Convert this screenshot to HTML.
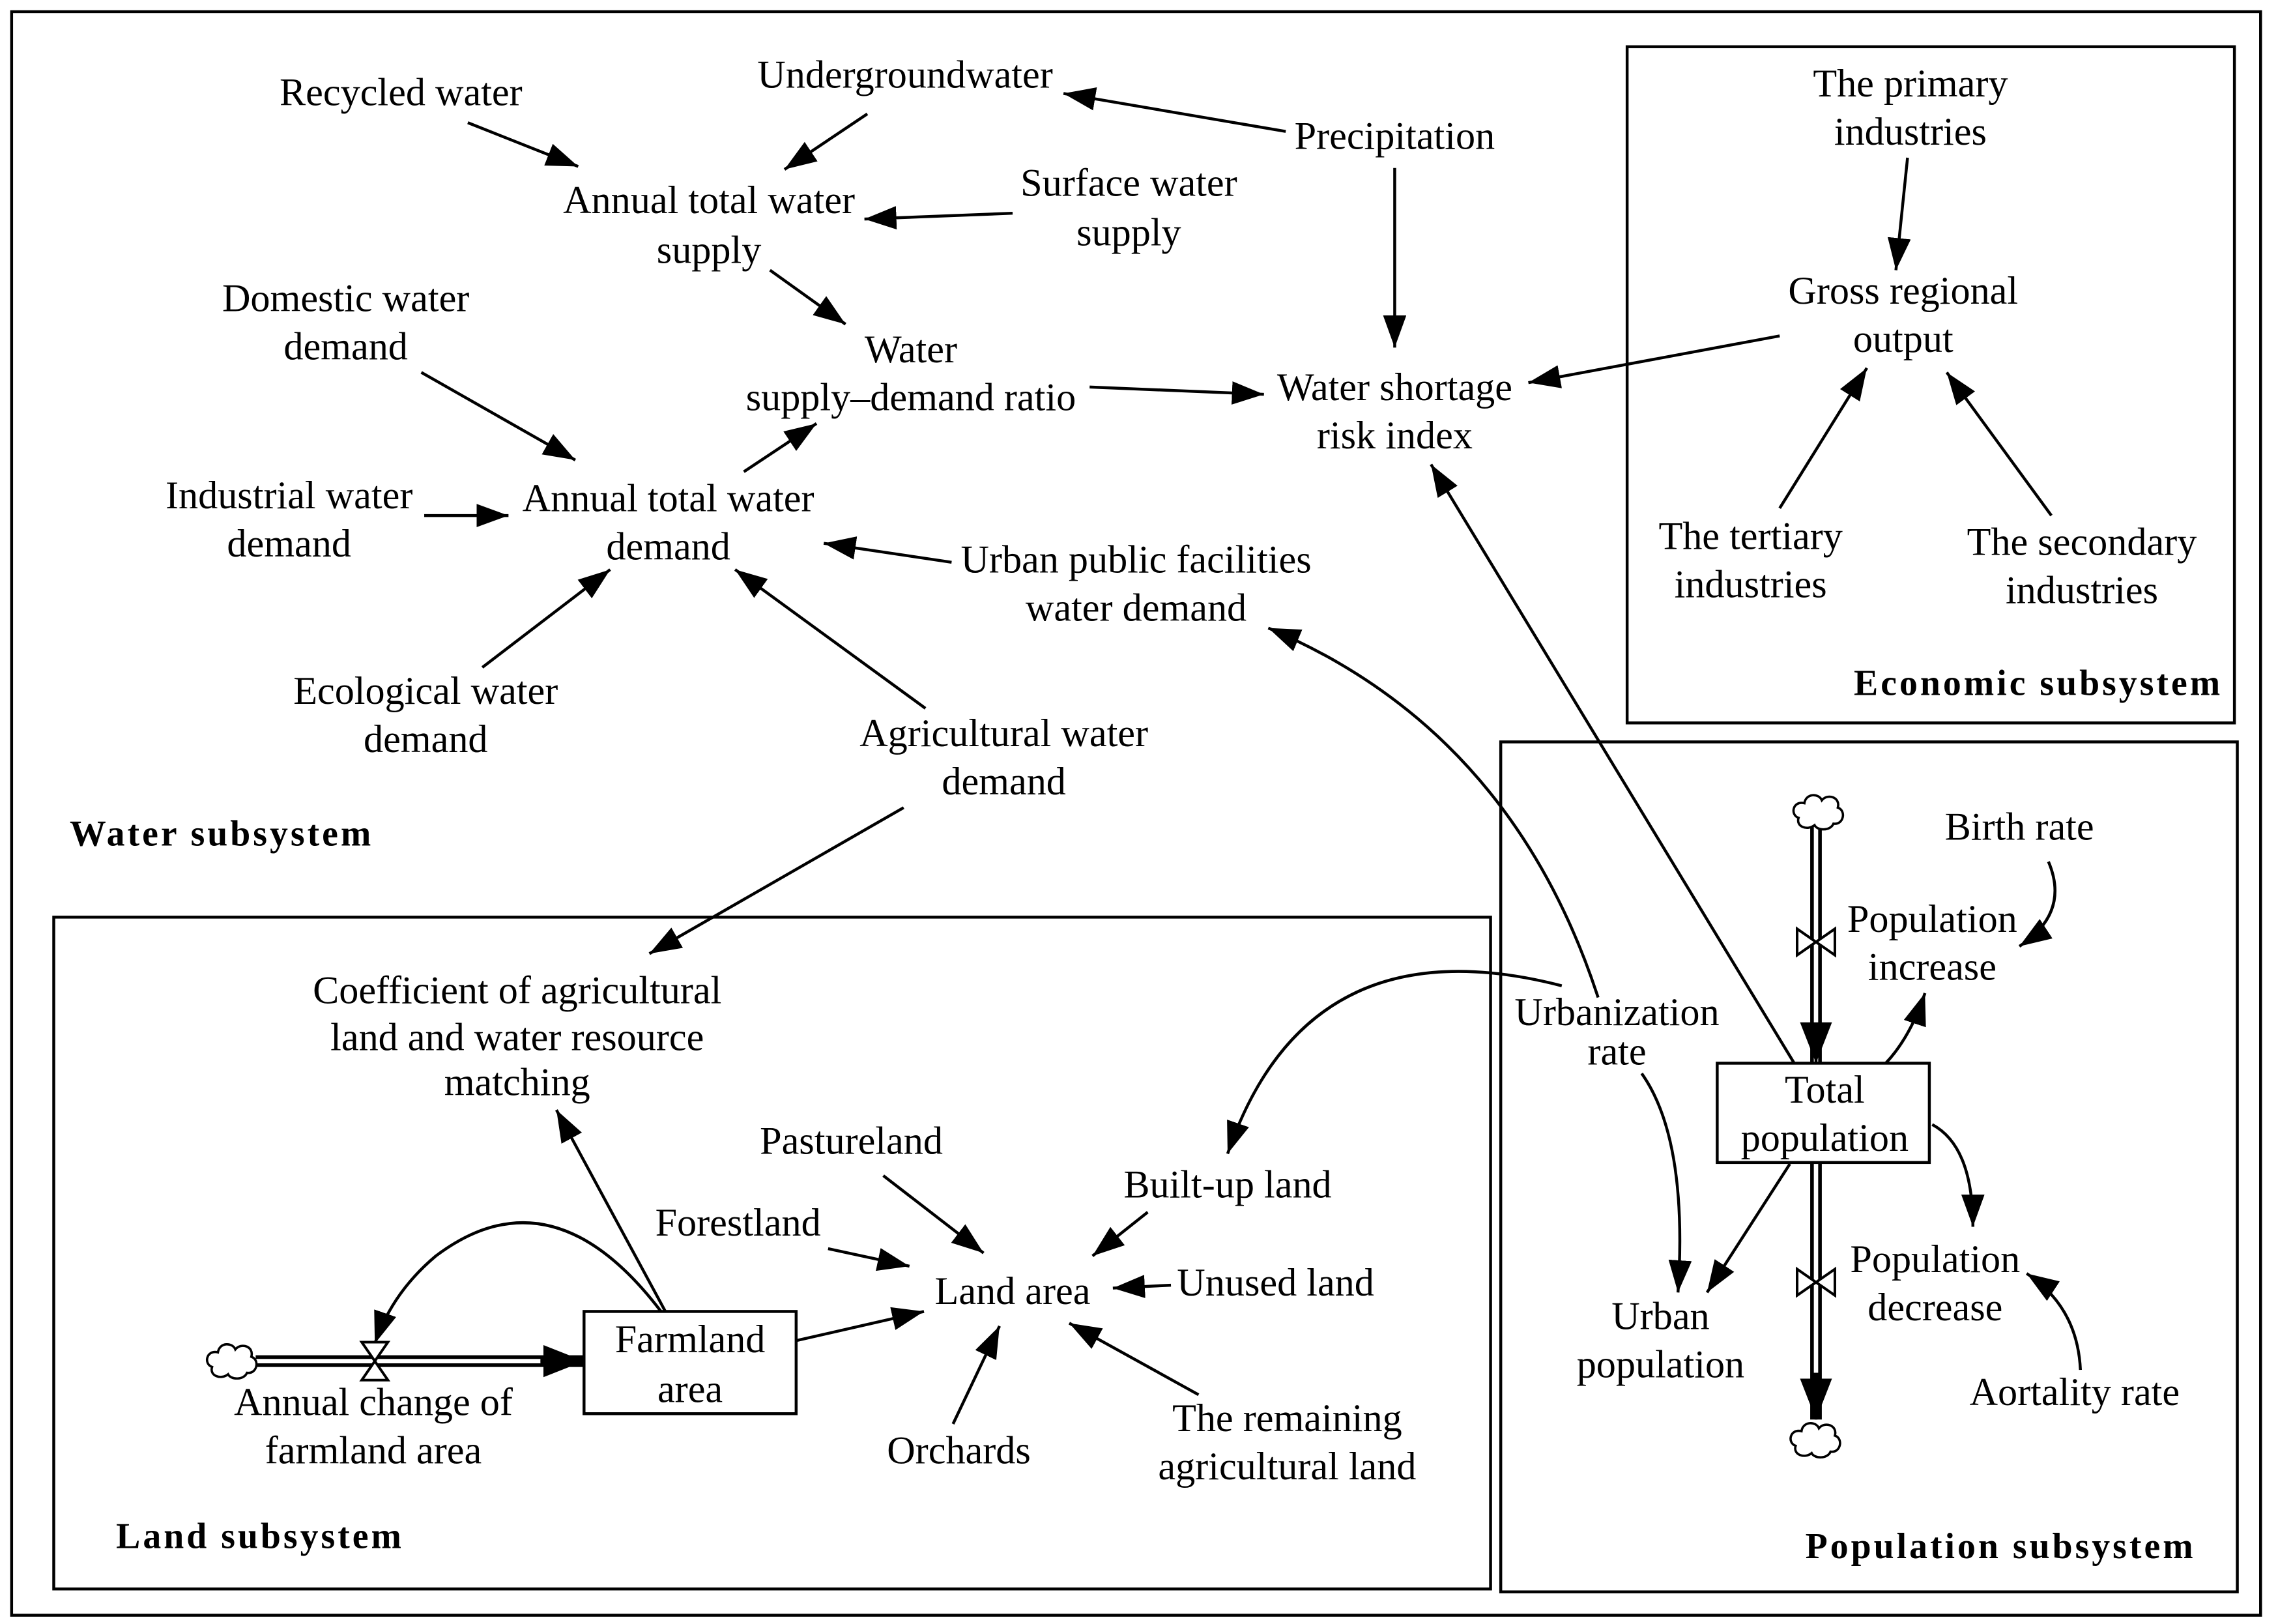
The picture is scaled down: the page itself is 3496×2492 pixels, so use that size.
<!DOCTYPE html>
<html><head><meta charset="utf-8"><style>
html,body{margin:0;padding:0;background:#fff}
svg{display:block}
text{font-family:"Liberation Serif",serif;font-size:27px;fill:#000;text-anchor:middle}
.b{font-weight:bold;font-size:25px;letter-spacing:1.8px}
</style></head><body>
<svg width="3496" height="2492" viewBox="0 0 1568 1112" preserveAspectRatio="none" xmlns="http://www.w3.org/2000/svg">
<defs>
<marker id="a" markerUnits="userSpaceOnUse" markerWidth="24" markerHeight="18" refX="22" refY="8" orient="auto"><path d="M0,0 L22,8 L0,16 Z" fill="#000"/></marker>
<marker id="A" markerUnits="userSpaceOnUse" markerWidth="30" markerHeight="24" refX="28" refY="11" orient="auto"><path d="M0,0 L28,11 L0,22 Z" fill="#000"/></marker>
<g id="cloud"><path d="M-14,4 C-20,2 -18,-8 -10,-6 C-9,-13 0,-13 2,-8 C6,-13 15,-10 13,-3 C19,-1 17,9 10,8 C8,13 -1,13 -3,9 C-8,13 -16,10 -14,4 Z" fill="#fff" stroke="#000" stroke-width="1.6"/></g>
</defs>
<rect x="8" y="8" width="1548" height="1098" fill="none" stroke="#000" stroke-width="2"/>
<rect x="1120" y="32" width="418" height="463" fill="none" stroke="#000" stroke-width="2"/>
<rect x="1033" y="508" width="507" height="582" fill="none" stroke="#000" stroke-width="2"/>
<rect x="37" y="628" width="989" height="460" fill="none" stroke="#000" stroke-width="2"/>

<g stroke="#000" stroke-width="2" fill="none" marker-end="url(#a)">
<line x1="322" y1="84" x2="398" y2="114"/>
<line x1="597" y1="78" x2="540" y2="116"/>
<line x1="885" y1="90" x2="732" y2="64"/>
<line x1="697" y1="146" x2="595" y2="150"/>
<line x1="530" y1="185" x2="582" y2="222"/>
<line x1="960" y1="115" x2="960" y2="238"/>
<line x1="750" y1="265" x2="870" y2="270"/>
<line x1="1225" y1="230" x2="1052" y2="262"/>
<line x1="1313" y1="108" x2="1305" y2="185"/>
<line x1="1225" y1="348" x2="1285" y2="252"/>
<line x1="1412" y1="353" x2="1340" y2="255"/>
<line x1="512" y1="323" x2="562" y2="290"/>
<line x1="290" y1="255" x2="396" y2="315"/>
<line x1="292" y1="353" x2="350" y2="353"/>
<line x1="332" y1="457" x2="420" y2="390"/>
<line x1="655" y1="385" x2="567" y2="372"/>
<line x1="637" y1="485" x2="506" y2="390"/>
<line x1="622" y1="553" x2="447" y2="653"/>
<path d="M1100,683 Q1040,500 873,430"/>
<line x1="1235" y1="728" x2="985" y2="318"/>
<path d="M1075,675 Q900,630 845,790"/>
<path d="M1130,735 Q1162,780 1155,885"/>
<line x1="1232" y1="797" x2="1175" y2="885"/>
<path d="M1298,728 Q1315,710 1325,680"/>
<path d="M1410,590 Q1425,625 1390,648"/>
<path d="M1330,770 Q1358,785 1358,840"/>
<path d="M1432,938 Q1430,895 1395,872"/>
<path d="M455,898 Q380,800 300,860 Q270,885 258,920"/>
<line x1="458" y1="898" x2="383" y2="760"/>
<line x1="608" y1="805" x2="677" y2="858"/>
<line x1="570" y1="855" x2="626" y2="867"/>
<line x1="790" y1="830" x2="752" y2="860"/>
<line x1="806" y1="880" x2="766" y2="882"/>
<line x1="548" y1="918" x2="636" y2="898"/>
<line x1="656" y1="975" x2="688" y2="908"/>
<line x1="825" y1="955" x2="736" y2="906"/>
</g>

<g fill="none">
<line x1="1250" y1="566" x2="1250" y2="728" stroke="#000" stroke-width="8"/>
<line x1="1250" y1="566" x2="1250" y2="730" stroke="#fff" stroke-width="3"/>
<line x1="1250" y1="704" x2="1250" y2="728" stroke="#000" stroke-width="2" marker-end="url(#A)"/>
<line x1="1250" y1="796" x2="1250" y2="972" stroke="#000" stroke-width="8"/>
<line x1="1250" y1="794" x2="1250" y2="940" stroke="#fff" stroke-width="3"/>
<line x1="1250" y1="940" x2="1250" y2="972" stroke="#000" stroke-width="2" marker-end="url(#A)"/>
<line x1="176" y1="932" x2="402" y2="932" stroke="#000" stroke-width="8"/>
<line x1="174" y1="932" x2="372" y2="932" stroke="#fff" stroke-width="3"/>
<line x1="372" y1="932" x2="402" y2="932" stroke="#000" stroke-width="2" marker-end="url(#A)"/>
</g>
<g fill="#fff" stroke="#000" stroke-width="1.8">
<path d="M1237,636 L1263,654 L1263,636 L1237,654 Z"/>
<path d="M1237,869 L1263,887 L1263,869 L1237,887 Z"/>
<path d="M249,919 L267,945 L249,945 L267,919 Z"/>
</g>
<use href="#cloud" x="1252" y="556"/>
<use href="#cloud" x="1250" y="986"/>
<use href="#cloud" x="160" y="932"/>

<rect x="1182" y="728" width="146" height="68" fill="#fff" stroke="#000" stroke-width="2"/>
<rect x="402" y="898" width="146" height="70" fill="#fff" stroke="#000" stroke-width="2"/>

<text x="276" y="72">Recycled water</text>
<text x="623" y="60">Undergroundwater</text>
<text x="960" y="102">Precipitation</text>
<text x="488" y="146">Annual total water</text><text x="488" y="180">supply</text>
<text x="777" y="134">Surface water</text><text x="777" y="168">supply</text>
<text x="238" y="213">Domestic water</text><text x="238" y="246">demand</text>
<text x="627" y="248">Water</text><text x="627" y="281">supply–demand ratio</text>
<text x="960" y="274">Water shortage</text><text x="960" y="307">risk index</text>
<text x="199" y="348">Industrial water</text><text x="199" y="381">demand</text>
<text x="460" y="350">Annual total water</text><text x="460" y="383">demand</text>
<text x="782" y="392">Urban public facilities</text><text x="782" y="425">water demand</text>
<text x="293" y="482">Ecological water</text><text x="293" y="515">demand</text>
<text x="691" y="511">Agricultural water</text><text x="691" y="544">demand</text>
<text class="b" x="48" y="579" style="text-anchor:start">Water subsystem</text>
<text x="1315" y="66">The primary</text><text x="1315" y="99">industries</text>
<text x="1310" y="208">Gross regional</text><text x="1310" y="241">output</text>
<text x="1205" y="376">The tertiary</text><text x="1205" y="409">industries</text>
<text x="1433" y="380">The secondary</text><text x="1433" y="413">industries</text>
<text class="b" x="1403" y="476">Economic subsystem</text>
<text x="1390" y="575">Birth rate</text>
<text x="1330" y="638">Population</text><text x="1330" y="671">increase</text>
<text x="1113" y="702">Urbanization</text><text x="1113" y="729">rate</text>
<text x="1256" y="755">Total</text><text x="1256" y="788">population</text>
<text x="1143" y="910">Urban</text><text x="1143" y="943">population</text>
<text x="1332" y="871">Population</text><text x="1332" y="904">decrease</text>
<text x="1428" y="962">Aortality rate</text>
<text class="b" x="1377" y="1067">Population subsystem</text>
<text x="356" y="687">Coefficient of agricultural</text><text x="356" y="719">land and water resource</text><text x="356" y="750">matching</text>
<text x="586" y="790">Pastureland</text>
<text x="845" y="820">Built-up land</text>
<text x="508" y="846">Forestland</text>
<text x="697" y="893">Land area</text>
<text x="878" y="887">Unused land</text>
<text x="475" y="926">Farmland</text><text x="475" y="960">area</text>
<text x="257" y="969">Annual change of</text><text x="257" y="1002">farmland area</text>
<text x="660" y="1002">Orchards</text>
<text x="886" y="980">The remaining</text><text x="886" y="1013">agricultural land</text>
<text class="b" x="179" y="1060">Land subsystem</text>
</svg>
</body></html>
